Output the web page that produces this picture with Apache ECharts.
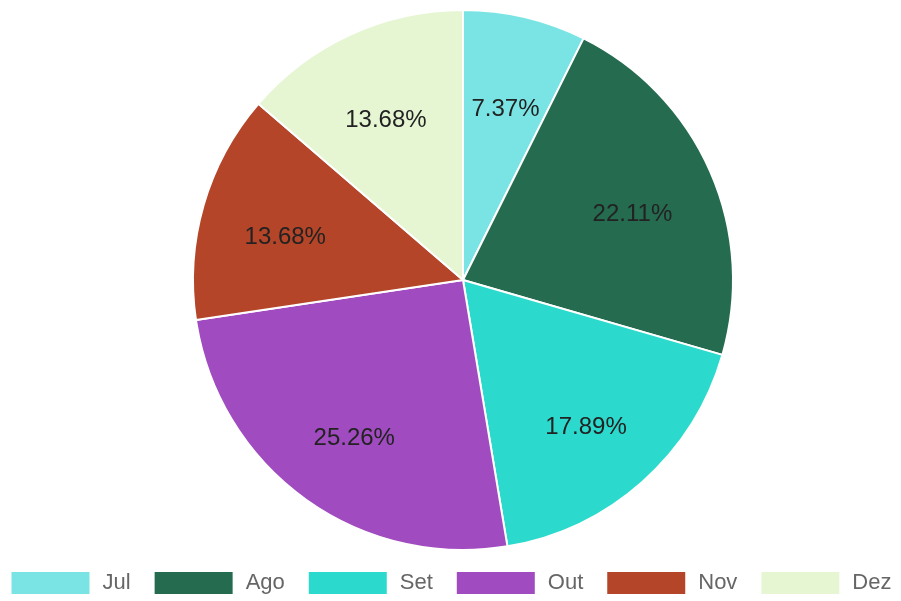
<!DOCTYPE html>
<html>
<head>
<meta charset="utf-8">
<script src="https://cdn.jsdelivr.net/npm/echarts@6/dist/echarts.min.js"></script>
<style>
  html, body { margin: 0; padding: 0; background: #fff; }
  #chart { width: 901px; height: 601px; }
</style>
</head>
<body>
<div id="chart"></div>
<script>
const months = ['Jul', 'Ago', 'Set', 'Out', 'Nov', 'Dez'];
const counts = [7, 21, 17, 24, 13, 13];
const colors = ['#7ae4e4', '#246b4f', '#2bdacd', '#a04bbf', '#b44528', '#e6f6d3'];

const total = counts.reduce((a, b) => a + b, 0);
const pieData = months.map((m, i) => ({ name: m, value: counts[i], itemStyle: { color: colors[i] } }));

const chart = echarts.init(document.getElementById('chart'));
chart.setOption({
  animation: false,
  legend: {
    bottom: 0,
    left: 'center',
    itemWidth: 80,
    itemHeight: 24,
    itemGap: 22,
    icon: 'rect',
    textStyle: { fontSize: 22, color: '#666', fontFamily: 'Liberation Sans', padding: [0, 0, 0, 7] },
    data: months
  },
  series: [
    {
      type: 'pie',
      center: [463, 280],
      radius: [0, 270],
      startAngle: 90,
      label: { show: false },
      labelLine: { show: false },
      itemStyle: { borderColor: '#fff', borderWidth: 2 },
      emphasis: { disabled: true },
      data: pieData
    },
    {
      // transparent ring only to position the percentage labels
      type: 'pie',
      center: [463, 289],
      radius: [94, 270],
      startAngle: 90,
      silent: true,
      itemStyle: { color: 'rgba(0,0,0,0)' },
      label: {
        show: true,
        position: 'inside',
        fontSize: 24,
        color: '#222',
        fontFamily: 'Liberation Sans',
        formatter: p => (p.value / total * 100).toFixed(2) + '%'
      },
      labelLine: { show: false },
      emphasis: { disabled: true },
      data: months.map((m, i) => ({ name: m, value: counts[i] }))
    }
  ]
});
</script>
</body>
</html>
